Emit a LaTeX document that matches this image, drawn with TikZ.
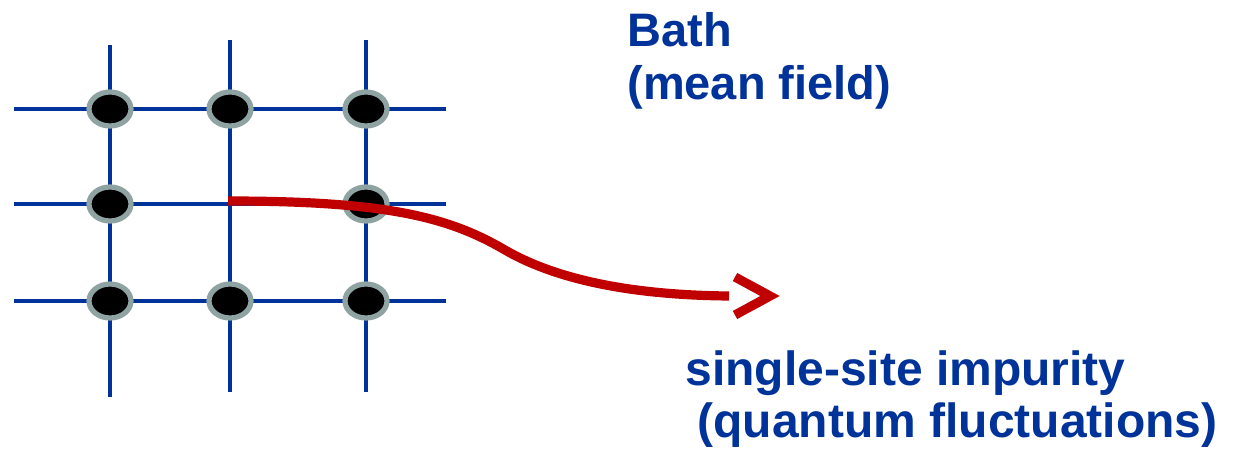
\documentclass[tikz,border=0pt]{standalone}
\usepackage{fontspec}
\setmainfont{Liberation Sans}
\usepackage{xcolor}
\usepackage{tikz}
\usetikzlibrary{shapes.geometric}
\definecolor{bluex}{HTML}{003399}
\definecolor{redx}{HTML}{C00000}
\definecolor{ringx}{HTML}{8FA3A3}
\tikzset{
  ln/.style={bluex,line width=2.3pt},
  site/.style={ellipse,draw=ringx,line width=2.6pt,fill=black,minimum width=21pt,minimum height=17pt,inner sep=0pt},
  curv/.style={redx,line width=4.6pt},
  chev/.style={redx,line width=4.6pt,miter limit=10},
  lbl/.style={bluex,font=\bfseries\fontsize{23.5}{26.5}\selectfont,anchor=base west,inner sep=0pt},
  lblb/.style={lbl,font=\bfseries\fontsize{24}{27}\selectfont}
}
\begin{document}
\begin{tikzpicture}[x=0.5pt,y=-0.5pt]
\useasboundingbox (0,0) rectangle (1235,454);
% lattice
\draw[ln] (110,45)--(110,397) (230,40)--(230,392) (366,40)--(366,392);
\foreach \yy in {109,204,301}{\draw[ln] (14,\yy)--(446,\yy);}
% sites
\foreach \xx/\cc in {110/a,230/b,366/c}{
  \node[site] (s-\cc-1) at (\xx,109) {};
  \node[site] (s-\cc-3) at (\xx,301) {};
}
\node[site] (s-a-2) at (110,204) {};
\node[site] (s-c-2) at (366,204) {};
% impurity curve
\coordinate (imp) at (228,201);
\coordinate (end) at (729,296);
\coordinate (tip) at (770,296);
\draw[curv] (imp) .. controls (390,201) and (450,218) .. (505,250)
  .. controls (550,276) and (620,295) .. (end);
\draw[chev] (tip) ++(-35,-19) -- (tip) -- ++(-35,19);
% labels
\node[lbl] (bath) at (627,47) {Bath};
\node[lbl] (mf) at (627,100) {(mean field)};
\node[lblb] (ssi) at (685,385) {single-site impurity};
\node[lblb] (qf) at (697,437) {(quantum fluctuations)};
\end{tikzpicture}
\end{document}
